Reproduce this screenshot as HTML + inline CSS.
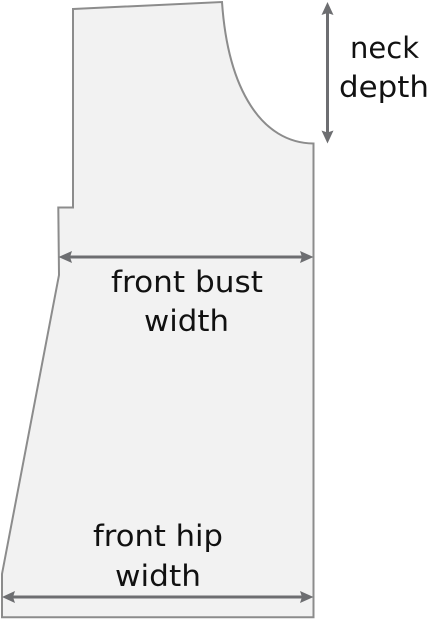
<!DOCTYPE html>
<html lang="en">
<head>
<meta charset="utf-8">
<title>Front pattern piece measurements</title>
<style>
  html, body { margin: 0; padding: 0; background: #fff; }
  svg { display: block; }
  text { font-family: "DejaVu Sans", "Liberation Sans", sans-serif; font-size: 29px; fill: #111; }
  .arrow-shaft { stroke: #6d6e71; stroke-width: 3; fill: none; }
  .arrow-head { fill: #6d6e71; }
</style>
</head>
<body>
<svg width="431" height="620" viewBox="0 0 431 620" xmlns="http://www.w3.org/2000/svg">
  <path
        d="M73 9 L222 2 C228 90 262 143 313.5 143.5 L313.5 617.3 L2 617.3 L2 574 L59 275 L58.3 207.5 L73 207.5 Z"
        fill="#f2f2f2" stroke="#8c8c8c" stroke-width="2" stroke-linejoin="miter"/>

  <g>
    <line class="arrow-shaft" x1="327.5" y1="10" x2="327.5" y2="135"/>
    <path class="arrow-head" d="M327.5 2 L333.5 15 L327.5 13 L321.5 15 Z"/>
    <path class="arrow-head" d="M327.5 143.5 L333.5 130.5 L327.5 132.5 L321.5 130.5 Z"/>
  </g>

  <g>
    <line class="arrow-shaft" x1="66" y1="257" x2="306" y2="257"/>
    <path class="arrow-head" d="M58.5 257 L72 251 L70 257 L72 263 Z"/>
    <path class="arrow-head" d="M313.5 257 L300 251 L302 257 L300 263 Z"/>
  </g>

  <g>
    <line class="arrow-shaft" x1="9" y1="597" x2="306" y2="597"/>
    <path class="arrow-head" d="M2 597 L15 591 L13 597 L15 603 Z"/>
    <path class="arrow-head" d="M313.5 597 L300 591 L302 597 L300 603 Z"/>
  </g>

  <g>
    <text x="350" y="58" textLength="69" lengthAdjust="spacingAndGlyphs">neck</text>
    <text x="339" y="97" textLength="90" lengthAdjust="spacingAndGlyphs">depth</text>
  </g>
  <g>
    <text x="111" y="292" textLength="152" lengthAdjust="spacingAndGlyphs">front bust</text>
    <text x="144" y="331" textLength="85" lengthAdjust="spacingAndGlyphs">width</text>
  </g>
  <g>
    <text x="93" y="546" textLength="130" lengthAdjust="spacingAndGlyphs">front hip</text>
    <text x="115" y="586" textLength="86" lengthAdjust="spacingAndGlyphs">width</text>
  </g>
</svg>
</body>
</html>
